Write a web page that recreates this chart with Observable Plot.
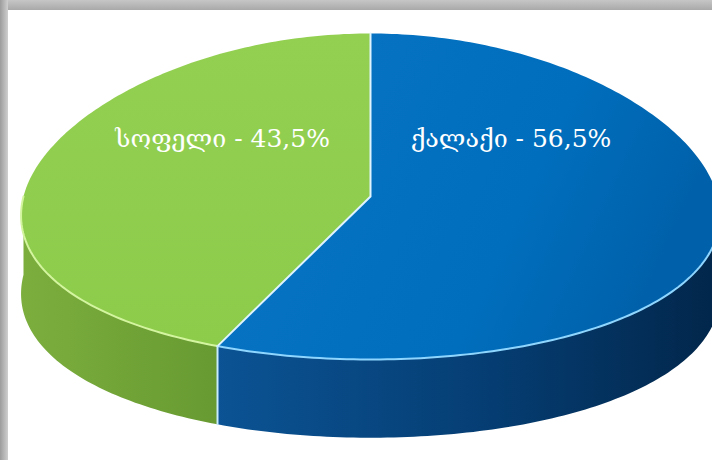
<!DOCTYPE html>
<html>
<head>
<meta charset="utf-8">
<script src="https://cdn.jsdelivr.net/npm/d3@7"></script>
<script src="https://cdn.jsdelivr.net/npm/@observablehq/plot@0.6"></script>
<style>
  html, body { margin: 0; padding: 0; background: #fff; }
  #wrap { position: relative; width: 712px; height: 460px; overflow: hidden; background: #fff; }
  #chart { position: absolute; left: 0; top: 0; }
  .band-top { position: absolute; left: 0; top: 0; width: 712px; height: 10px;
    background: linear-gradient(to bottom, #c6c6c6, #a9a9a9); }
  .band-left { position: absolute; left: 0; top: 0; width: 8px; height: 460px;
    background: linear-gradient(to right, #9c9c9c, #cfcfcf); }
</style>
</head>
<body>
<div id="wrap">
  <div id="chart"></div>
  <div class="band-top"></div>
  <div class="band-left"></div>
</div>
<script>
// ---- data ----
const categories = ["ქალაქი", "სოფელი"];
const shares = [56.5, 43.5];
const labelTexts = categories.map((c, i) => `${c} - ${String(shares[i]).replace(".", ",")}%`);

// ---- geometry derived from the data ----
const TAU = Math.PI * 2;
const persp = 0.12;   // mild perspective widening toward the front
const depth = 0.48;   // thickness of the pie, in y units
function pt(theta, drop) {
  const s = Math.sin(theta), c = Math.cos(theta);
  return { u: s * (1 - persp * c), v: -c + drop };
}
function arc(a0, a1, drop) {
  const n = Math.max(2, Math.ceil(Math.abs(a1 - a0) / (Math.PI / 180)));
  return d3.range(n + 1).map(i => pt(a0 + (a1 - a0) * i / n, drop));
}
let acc = 0;
const slices = categories.map((c, i) => {
  const a0 = acc / 100 * TAU;
  acc += shares[i];
  return { key: c, i, a0, a1: acc / 100 * TAU };
});

const rows = [];
function addShape(name, pts) { pts.forEach((p, j) => rows.push({ shape: name, order: j, ...p })); }

slices.forEach(s => {
  addShape("top-" + s.i, [{ u: 0, v: 0 }, ...arc(s.a0, s.a1, 0), { u: 0, v: 0 }]);
  const f0 = Math.max(s.a0, Math.PI / 2), f1 = Math.min(s.a1, 3 * Math.PI / 2);
  if (f1 > f0) {
    const topArc = arc(f0, f1, 0);
    const botArc = arc(f1, f0, depth);
    addShape("side-" + s.i, [...topArc, ...botArc, topArc[0]]);
    addShape("rim-" + s.i, topArc);
  }
});
const bAngle = slices[1].a0;
addShape("edge-vert", [pt(bAngle, 0), pt(bAngle, depth)]);
addShape("edge-top", [pt(0, 0), { u: 0, v: 0 }, pt(bAngle, 0)]);

const labelRows = [
  { u: 0.405, v: -0.35, text: labelTexts[0] },
  { u: -0.426, v: -0.35, text: labelTexts[1] }
];

const sel = name => rows.filter(r => r.shape === name);

const defs = () => {
  const g = d3.create("svg:defs");
  const grad = (id, stops, x2 = "100%", y2 = "0%") => {
    const lg = g.append("linearGradient").attr("id", id)
      .attr("x1", "0%").attr("y1", "0%").attr("x2", x2).attr("y2", y2);
    stops.forEach(([o, c]) => lg.append("stop").attr("offset", o).attr("stop-color", c));
  };
  grad("gBlueTop", [["0%", "#0a74c4"], ["70%", "#006ebd"], ["100%", "#0061aa"]], "100%", "30%");
  grad("gBlueSide", [["0%", "#0b5394"], ["55%", "#053d72"], ["100%", "#02264a"]]);
  grad("gGreenTop", [["0%", "#93d052"], ["100%", "#8dcb4b"]], "0%", "100%");
  grad("gGreenSide", [["0%", "#7cae3e"], ["100%", "#679a31"]]);
  return g.node();
};

const line = (name, opts) => Plot.line(sel(name), { x: "u", y: "v", curve: "linear", ...opts });

const chart = Plot.plot({
  width: 712,
  height: 460,
  margin: 0,
  x: { domain: [-1, 1], range: [23, 717], axis: null },
  y: { domain: [-1, 1], range: [33, 359], axis: null },
  style: { background: "#fff", overflow: "hidden" },
  marks: [
    defs,
    line("side-0", { fill: "url(#gBlueSide)", stroke: "none" }),
    line("side-1", { fill: "url(#gGreenSide)", stroke: "none" }),
    line("top-0", { fill: "url(#gBlueTop)", stroke: "none" }),
    line("top-1", { fill: "url(#gGreenTop)", stroke: "none" }),
    line("rim-0", { stroke: "#8fd6ff", strokeWidth: 2 }),
    line("rim-1", { stroke: "#d4f5a0", strokeWidth: 2 }),
    line("edge-top", { stroke: "#dff3ff", strokeWidth: 2 }),
    line("edge-vert", { stroke: "#c8ecff", strokeWidth: 2 }),
    Plot.text(labelRows, {
      x: "u", y: "v", text: "text", fill: "#fff",
      fontSize: 25, fontFamily: "DejaVu Serif, DejaVu Sans, serif",
      textAnchor: "middle", lineAnchor: "middle"
    })
  ]
});
document.getElementById("chart").appendChild(chart);
</script>
</body>
</html>
